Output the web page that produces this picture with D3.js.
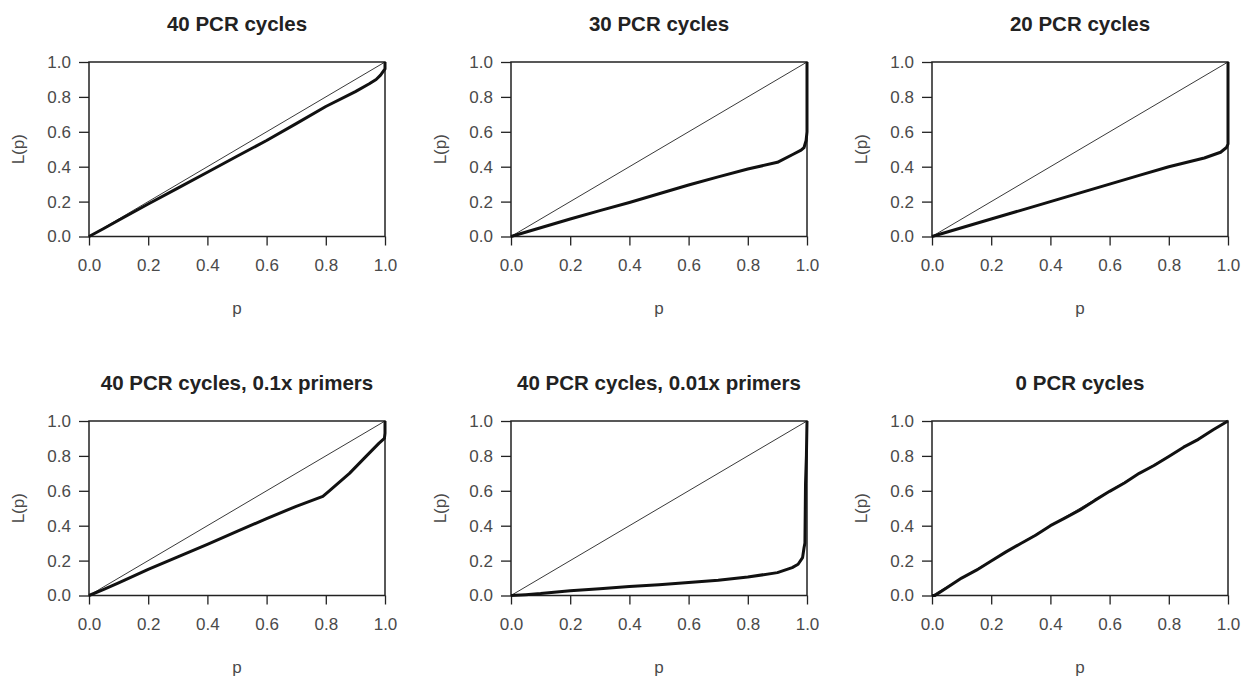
<!DOCTYPE html>
<html>
<head>
<meta charset="utf-8">
<script src="https://cdn.jsdelivr.net/npm/d3@7"></script>
<style>
  body { margin: 0; background: #fff; }
  text { font-family: "Liberation Sans", Arial, sans-serif; }
</style>
</head>
<body>
<svg id="chart" width="1248" height="679"></svg>
<script>
// panel titles, in reading order
var titles = ["40 PCR cycles", "30 PCR cycles", "20 PCR cycles",
              "40 PCR cycles, 0.1x primers", "40 PCR cycles, 0.01x primers", "0 PCR cycles"];

var tickValues = [0, 0.2, 0.4, 0.6, 0.8, 1.0];

// Lorenz curves (p, L(p))
var p40  = [0, 0.05, 0.1, 0.2, 0.3, 0.4, 0.5, 0.6, 0.7, 0.8, 0.9, 0.947, 0.97, 0.985, 1.0, 1.0];
var L40  = [0, 0.046, 0.093, 0.186, 0.277, 0.368, 0.46, 0.55, 0.647, 0.745, 0.83, 0.875, 0.9, 0.925, 0.96, 1.0];

var p30  = [0, 0.02, 0.1, 0.2, 0.3, 0.4, 0.5, 0.6, 0.7, 0.8, 0.9, 0.955, 0.98, 0.99, 0.997, 1.0, 1.0];
var L30  = [0, 0.01, 0.05, 0.1, 0.148, 0.195, 0.245, 0.295, 0.342, 0.387, 0.425, 0.473, 0.495, 0.51, 0.55, 0.6, 1.0];

var p20  = [0, 0.02, 0.1, 0.2, 0.3, 0.4, 0.5, 0.6, 0.7, 0.8, 0.92, 0.975, 0.995, 1.0, 1.0];
var L20  = [0, 0.01, 0.05, 0.1, 0.15, 0.2, 0.25, 0.3, 0.35, 0.4, 0.45, 0.483, 0.51, 0.53, 1.0];

var p01  = [0, 0.05, 0.1, 0.2, 0.3, 0.4, 0.5, 0.6, 0.7, 0.79, 0.81, 0.88, 0.936, 0.98, 0.998, 1.0, 1.0];
var L01  = [0, 0.035, 0.072, 0.15, 0.222, 0.293, 0.367, 0.441, 0.511, 0.568, 0.597, 0.70, 0.797, 0.873, 0.90, 0.93, 1.0];

var p001 = [0, 0.05, 0.1, 0.2, 0.3, 0.4, 0.5, 0.6, 0.7, 0.8, 0.9, 0.95, 0.97, 0.985, 0.99, 0.993, 0.995, 0.998, 1.0];
var L001 = [0, 0.005, 0.011, 0.027, 0.039, 0.051, 0.062, 0.074, 0.088, 0.106, 0.131, 0.16, 0.179, 0.217, 0.274, 0.30, 0.64, 0.8, 1.0];

var p0   = [0, 0.01, 0.05, 0.1, 0.15, 0.2, 0.25, 0.3, 0.35, 0.4, 0.45, 0.5, 0.55, 0.6, 0.65, 0.7, 0.75, 0.8, 0.85, 0.9, 0.95, 1.0];
var L0   = [0, 0.0, 0.045, 0.1, 0.145, 0.198, 0.25, 0.298, 0.345, 0.4, 0.445, 0.49, 0.545, 0.597, 0.645, 0.7, 0.745, 0.797, 0.85, 0.895, 0.95, 1.0];

var series = [[p40, L40], [p30, L30], [p20, L20], [p01, L01], [p001, L001], [p0, L0]];

var colLeft = [89, 511, 932];
var rowTop = [62, 421];
var w = 296, h = 174.5;

var svg = d3.select("#chart");
var fmt = d3.format(".1f");

series.forEach(function(s, i) {
    var left = colLeft[i % 3];
    var top = rowTop[Math.floor(i / 3)];

    var x = d3.scaleLinear().domain([0, 1]).range([0, w]);
    var y = d3.scaleLinear().domain([0, 1]).range([h, 0]);

    var g = svg.append("g").attr("transform", "translate(" + left + "," + top + ")");

    // x axis
    var xa = g.append("g").attr("transform", "translate(0," + h + ")")
        .call(d3.axisBottom(x).tickValues(tickValues).tickFormat(fmt).tickSize(9).tickPadding(13));
    // y axis
    var ya = g.append("g")
        .call(d3.axisLeft(y).tickValues(tickValues).tickFormat(fmt).tickSize(10).tickPadding(8));

    [xa, ya].forEach(function(a) {
        a.select(".domain").remove();
        a.selectAll("line").attr("stroke", "#222").attr("stroke-width", 1.3);
        a.selectAll("text").attr("fill", "#4a4a4a").style("font-size", "17px");
    });

    // frame
    g.append("rect").attr("width", w).attr("height", h)
        .attr("fill", "none").attr("stroke", "#222").attr("stroke-width", 1.5);

    // diagonal reference
    g.append("line")
        .attr("x1", x(0)).attr("y1", y(0)).attr("x2", x(1)).attr("y2", y(1))
        .attr("stroke", "#222").attr("stroke-width", 0.9);

    // curve
    var pts = d3.zip(s[0], s[1]);
    g.append("path").datum(pts)
        .attr("d", d3.line().x(function(d) { return x(d[0]); }).y(function(d) { return y(d[1]); }))
        .attr("fill", "none").attr("stroke", "#111").attr("stroke-width", 3)
        .attr("stroke-linejoin", "round");

    // titles and labels
    g.append("text").attr("x", w / 2).attr("y", -39)
        .attr("text-anchor", "middle").attr("dominant-baseline", "central")
        .attr("fill", "#222").style("font-size", "20.5px").style("font-weight", "bold")
        .text(titles[i]);

    g.append("text").attr("x", w / 2).attr("y", h + 72)
        .attr("text-anchor", "middle").attr("dominant-baseline", "central")
        .attr("fill", "#4a4a4a").style("font-size", "17px")
        .text("p");

    g.append("text")
        .attr("transform", "translate(-71," + (h / 2) + ") rotate(-90)")
        .attr("text-anchor", "middle").attr("dominant-baseline", "central")
        .attr("fill", "#4a4a4a").style("font-size", "17px")
        .text("L(p)");
});
</script>
</body>
</html>
